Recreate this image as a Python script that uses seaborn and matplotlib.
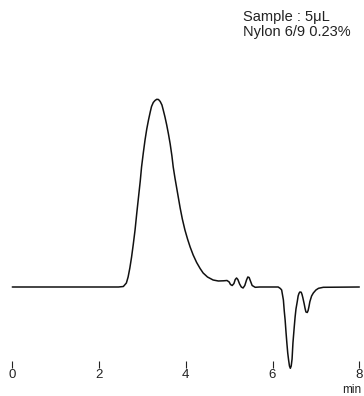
import numpy as np
import pandas as pd
import seaborn as sns
import matplotlib.pyplot as plt

# chromatogram trace (time in min, signal in arbitrary units)
time_min = [
    0.00, 1.50, 2.45, 2.56, 2.63, 2.67, 2.71, 2.75, 2.79, 2.83, 2.87, 2.91,
    2.95, 2.98, 3.02, 3.06, 3.10, 3.14, 3.18, 3.21, 3.25, 3.29, 3.33, 3.37,
    3.41, 3.45, 3.48, 3.52, 3.56, 3.60, 3.64, 3.68, 3.71, 3.75, 3.79, 3.83,
    3.87, 3.92, 3.98, 4.04, 4.10, 4.17, 4.25, 4.33, 4.40, 4.50, 4.63, 4.75,
    4.87, 4.95, 5.00, 5.03, 5.07, 5.11, 5.14, 5.17, 5.20, 5.24, 5.28, 5.32,
    5.36, 5.40, 5.43, 5.46, 5.49, 5.53, 5.60, 5.70, 6.00, 6.13, 6.18, 6.21,
    6.23, 6.25, 6.27, 6.29, 6.31, 6.33, 6.35, 6.37, 6.39, 6.41, 6.43, 6.45,
    6.47, 6.50, 6.52, 6.54, 6.57, 6.59, 6.61, 6.63, 6.66, 6.68, 6.70, 6.73,
    6.75, 6.77, 6.80, 6.82, 6.84, 6.86, 6.90, 6.94, 7.00, 7.06, 7.17, 8.00,
]
signal = [
    0.0, 0.0, 0.0, 0.5, 4.0, 10.0, 19.0, 30.0, 43.0, 57.0, 74.0, 90.0,
    106.0, 120.0, 134.0, 147.0, 158.0, 167.0, 175.0, 180.5, 184.5, 186.5, 187.7, 187.5,
    185.5, 182.0, 177.0, 170.0, 162.0, 153.0, 143.0, 131.0, 120.0, 109.0, 99.0, 89.0,
    79.0, 68.0, 57.0, 48.0, 40.0, 32.0, 24.5, 18.5, 14.0, 10.0, 7.0, 6.0,
    6.2, 6.5, 5.0, 2.5, 1.5, 3.5, 7.5, 9.0, 7.5, 3.0, 0.0, -1.0,
    1.5, 7.0, 10.0, 9.5, 6.0, 1.5, -0.3, 0.0, 0.0, 0.0, -1.5, -3.0,
    -8.0, -13.0, -24.0, -33.0, -45.0, -56.0, -66.0, -73.0, -79.0, -81.3, -79.0, -72.0,
    -56.0, -40.0, -30.0, -22.0, -14.5, -9.0, -6.3, -5.0, -5.2, -7.5, -11.0, -17.0,
    -21.5, -25.0, -25.5, -23.5, -19.5, -14.7, -9.0, -6.0, -3.0, -1.3, -0.3, 0.0,
]
tick_values = [0, 2, 4, 6, 8]
tick_labels = ["0", "2", "4", "6", "8"]
note_lines = ["Sample : 5μL", "Nylon 6/9 0.23%"]

df = pd.DataFrame({"time": time_min, "signal": signal})

sns.set_style("white")
plt.rcParams['font.family'] = ['Liberation Sans', 'DejaVu Sans']

fig = plt.figure(figsize=(3.64, 3.96), dpi=100)
ax = fig.add_axes([0, 0, 1, 1])

sns.lineplot(data=df, x="time", y="signal", color="#111111", linewidth=1.1,
             estimator=None, sort=False, ax=ax)

# pixel mapping: t=0 at x=12.3 px, 43.375 px per min; baseline at y=287 px
ax.set_xlim(-12.3 / 43.375, (364 - 12.3) / 43.375)
ax.set_ylim(-109, 287)

for side in ["top", "right", "left"]:
    ax.spines[side].set_visible(False)
ax.spines["bottom"].set_position(("data", -81))
ax.spines["bottom"].set_visible(False)

ax.set_xticks(tick_values)
ax.set_xticklabels(tick_labels)
ax.set_yticks([])
ax.tick_params(axis="x", direction="in", length=4.75, width=0.8, color="#222222",
               pad=1.0, labelsize=9.5, labelcolor="#222222", bottom=True)
ax.set_xlabel("")
ax.set_ylabel("")

ax.text(7.82, -106.0, "min", ha="center", va="baseline", fontsize=8.5, color="#222222")

ax.text(0.667, 1 - 20.7 / 396, note_lines[0], transform=ax.transAxes,
        ha="left", va="baseline", fontsize=10.5, color="#222222")
ax.text(0.667, 1 - 35.7 / 396, note_lines[1], transform=ax.transAxes,
        ha="left", va="baseline", fontsize=10.5, color="#222222")

fig.savefig("out.png", dpi=100)
